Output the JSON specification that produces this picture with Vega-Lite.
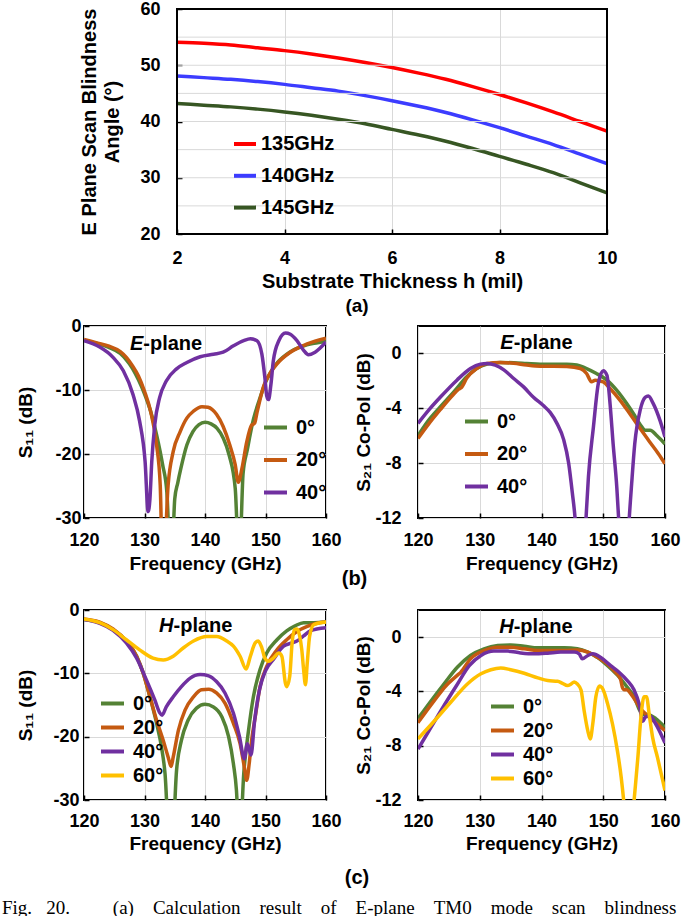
{
  "$schema": "https://vega.github.io/schema/vega-lite/v6.json",
  "background": "white",
  "padding": {"left": 2, "top": 0, "right": 0, "bottom": 0},
  "bounds": "flush",
  "align": "each",
  "columns": 2,
  "spacing": {"row": 92, "column": 92},
  "title": {
    "text": "Fig.\u00a0\u00a0\u00a020.\u00a0\u00a0\u00a0\u00a0\u00a0\u00a0\u00a0\u00a0\u00a0(a)\u00a0\u00a0\u00a0\u00a0Calculation\u00a0\u00a0\u00a0\u00a0result\u00a0\u00a0\u00a0\u00a0of\u00a0\u00a0\u00a0\u00a0E-plane\u00a0\u00a0\u00a0\u00a0TM0\u00a0\u00a0\u00a0\u00a0mode\u00a0\u00a0\u00a0\u00a0scan\u00a0\u00a0\u00a0\u00a0blindness",
    "orient": "bottom", "anchor": "start", "frame": "group", "dx": -82, "offset": 10,
    "font": "Liberation Serif", "fontSize": 19, "fontWeight": "normal"
  },
  "resolve": {"scale": {"color": "independent"}},
  "datasets": {
    "scan": [
      {"freq": "135GHz", "h": 2, "angle": 54.1}, {"freq": "135GHz", "h": 2.5, "angle": 53.9}, {"freq": "135GHz", "h": 3, "angle": 53.6},
      {"freq": "135GHz", "h": 3.5, "angle": 53.1}, {"freq": "135GHz", "h": 4, "angle": 52.6}, {"freq": "135GHz", "h": 4.5, "angle": 52.0},
      {"freq": "135GHz", "h": 5, "angle": 51.3}, {"freq": "135GHz", "h": 5.5, "angle": 50.5}, {"freq": "135GHz", "h": 6, "angle": 49.6},
      {"freq": "135GHz", "h": 6.5, "angle": 48.6}, {"freq": "135GHz", "h": 7, "angle": 47.5}, {"freq": "135GHz", "h": 7.5, "angle": 46.2},
      {"freq": "135GHz", "h": 8, "angle": 44.8}, {"freq": "135GHz", "h": 8.5, "angle": 43.3}, {"freq": "135GHz", "h": 9, "angle": 41.7},
      {"freq": "135GHz", "h": 9.5, "angle": 40.0}, {"freq": "135GHz", "h": 10, "angle": 38.3},
      {"freq": "140GHz", "h": 2, "angle": 48.1}, {"freq": "140GHz", "h": 2.5, "angle": 47.8}, {"freq": "140GHz", "h": 3, "angle": 47.5},
      {"freq": "140GHz", "h": 3.5, "angle": 47.1}, {"freq": "140GHz", "h": 4, "angle": 46.6}, {"freq": "140GHz", "h": 4.5, "angle": 46.0},
      {"freq": "140GHz", "h": 5, "angle": 45.4}, {"freq": "140GHz", "h": 5.5, "angle": 44.6}, {"freq": "140GHz", "h": 6, "angle": 43.7},
      {"freq": "140GHz", "h": 6.5, "angle": 42.7}, {"freq": "140GHz", "h": 7, "angle": 41.6}, {"freq": "140GHz", "h": 7.5, "angle": 40.3},
      {"freq": "140GHz", "h": 8, "angle": 38.9}, {"freq": "140GHz", "h": 8.5, "angle": 37.4}, {"freq": "140GHz", "h": 9, "angle": 35.9},
      {"freq": "140GHz", "h": 9.5, "angle": 34.2}, {"freq": "140GHz", "h": 10, "angle": 32.5},
      {"freq": "145GHz", "h": 2, "angle": 43.2}, {"freq": "145GHz", "h": 2.5, "angle": 42.9}, {"freq": "145GHz", "h": 3, "angle": 42.6},
      {"freq": "145GHz", "h": 3.5, "angle": 42.2}, {"freq": "145GHz", "h": 4, "angle": 41.7}, {"freq": "145GHz", "h": 4.5, "angle": 41.1},
      {"freq": "145GHz", "h": 5, "angle": 40.4}, {"freq": "145GHz", "h": 5.5, "angle": 39.6}, {"freq": "145GHz", "h": 6, "angle": 38.6},
      {"freq": "145GHz", "h": 6.5, "angle": 37.6}, {"freq": "145GHz", "h": 7, "angle": 36.5}, {"freq": "145GHz", "h": 7.5, "angle": 35.2},
      {"freq": "145GHz", "h": 8, "angle": 33.8}, {"freq": "145GHz", "h": 8.5, "angle": 32.4}, {"freq": "145GHz", "h": 9, "angle": 30.9},
      {"freq": "145GHz", "h": 9.5, "angle": 29.1}, {"freq": "145GHz", "h": 10, "angle": 27.3}
    ],
    "s11e": [
      {"a": "0°", "f": 120, "v": -2.2}, {"a": "0°", "f": 122, "v": -2.7}, {"a": "0°", "f": 124, "v": -3.3}, {"a": "0°", "f": 126, "v": -4.3},
      {"a": "0°", "f": 127, "v": -5.3}, {"a": "0°", "f": 128, "v": -6.6}, {"a": "0°", "f": 129, "v": -8.4}, {"a": "0°", "f": 130, "v": -10.6},
      {"a": "0°", "f": 131, "v": -13.3}, {"a": "0°", "f": 132, "v": -17}, {"a": "0°", "f": 133, "v": -21.7}, {"a": "0°", "f": 133.7, "v": -26},
      {"a": "0°", "f": 134.4, "v": -40}, {"a": "0°", "f": 135, "v": -27}, {"a": "0°", "f": 135.5, "v": -24.5}, {"a": "0°", "f": 136, "v": -22.3},
      {"a": "0°", "f": 137, "v": -18.6}, {"a": "0°", "f": 138, "v": -16.5}, {"a": "0°", "f": 139, "v": -15.4}, {"a": "0°", "f": 140, "v": -15.05},
      {"a": "0°", "f": 141, "v": -15.3}, {"a": "0°", "f": 142, "v": -16}, {"a": "0°", "f": 143, "v": -17.5}, {"a": "0°", "f": 144, "v": -20.2},
      {"a": "0°", "f": 145, "v": -25.4}, {"a": "0°", "f": 145.65, "v": -38}, {"a": "0°", "f": 146.3, "v": -23}, {"a": "0°", "f": 147, "v": -19.3},
      {"a": "0°", "f": 148, "v": -14.6}, {"a": "0°", "f": 149, "v": -11.5}, {"a": "0°", "f": 150, "v": -8.8}, {"a": "0°", "f": 151, "v": -7},
      {"a": "0°", "f": 152, "v": -5.7}, {"a": "0°", "f": 154, "v": -4.1}, {"a": "0°", "f": 156, "v": -3.2}, {"a": "0°", "f": 158, "v": -2.7},
      {"a": "0°", "f": 160, "v": -2.4},
      {"a": "20°", "f": 120, "v": -2.1}, {"a": "20°", "f": 122, "v": -2.6}, {"a": "20°", "f": 124, "v": -3.1}, {"a": "20°", "f": 126, "v": -4},
      {"a": "20°", "f": 127, "v": -4.9}, {"a": "20°", "f": 128, "v": -6.2}, {"a": "20°", "f": 129, "v": -7.8}, {"a": "20°", "f": 130, "v": -10.2},
      {"a": "20°", "f": 131, "v": -13.3}, {"a": "20°", "f": 132, "v": -18.6}, {"a": "20°", "f": 132.6, "v": -24.9}, {"a": "20°", "f": 133.05, "v": -40},
      {"a": "20°", "f": 133.9, "v": -24.9}, {"a": "20°", "f": 134.75, "v": -19.6}, {"a": "20°", "f": 135.9, "v": -16.5}, {"a": "20°", "f": 137, "v": -14.4},
      {"a": "20°", "f": 138.1, "v": -13.3}, {"a": "20°", "f": 139.5, "v": -12.6}, {"a": "20°", "f": 140.5, "v": -12.7}, {"a": "20°", "f": 141.9, "v": -13.8},
      {"a": "20°", "f": 143, "v": -15.7}, {"a": "20°", "f": 144.1, "v": -18.6}, {"a": "20°", "f": 145, "v": -21.7}, {"a": "20°", "f": 145.5, "v": -24.4},
      {"a": "20°", "f": 146.1, "v": -22.3}, {"a": "20°", "f": 146.9, "v": -18.1}, {"a": "20°", "f": 147.7, "v": -15.5}, {"a": "20°", "f": 148.2, "v": -15.2},
      {"a": "20°", "f": 148.6, "v": -13.5}, {"a": "20°", "f": 149.7, "v": -9.4}, {"a": "20°", "f": 150.8, "v": -7.3}, {"a": "20°", "f": 151.9, "v": -5.9},
      {"a": "20°", "f": 154.1, "v": -4.1}, {"a": "20°", "f": 156.9, "v": -2.8}, {"a": "20°", "f": 160, "v": -1.9},
      {"a": "40°", "f": 120, "v": -2.3}, {"a": "40°", "f": 122.6, "v": -3.3}, {"a": "40°", "f": 124.8, "v": -4.9}, {"a": "40°", "f": 126.5, "v": -7},
      {"a": "40°", "f": 128.1, "v": -10.7}, {"a": "40°", "f": 129.2, "v": -14.9}, {"a": "40°", "f": 130.1, "v": -21.2}, {"a": "40°", "f": 130.6, "v": -29},
      {"a": "40°", "f": 130.9, "v": -27}, {"a": "40°", "f": 131.2, "v": -21.2}, {"a": "40°", "f": 131.7, "v": -15.4}, {"a": "40°", "f": 132.5, "v": -11.2},
      {"a": "40°", "f": 133.6, "v": -8.6}, {"a": "40°", "f": 135.3, "v": -6.7}, {"a": "40°", "f": 137, "v": -5.7}, {"a": "40°", "f": 139.2, "v": -4.8},
      {"a": "40°", "f": 141.4, "v": -4.4}, {"a": "40°", "f": 143, "v": -4.1}, {"a": "40°", "f": 144.7, "v": -3.1}, {"a": "40°", "f": 146.4, "v": -2.3},
      {"a": "40°", "f": 147.5, "v": -2.0}, {"a": "40°", "f": 148.6, "v": -2.3}, {"a": "40°", "f": 149.4, "v": -4.4}, {"a": "40°", "f": 149.9, "v": -8.1},
      {"a": "40°", "f": 150.2, "v": -10.9}, {"a": "40°", "f": 150.5, "v": -11.5}, {"a": "40°", "f": 150.9, "v": -9.1}, {"a": "40°", "f": 151.3, "v": -5.4},
      {"a": "40°", "f": 152.2, "v": -2.3}, {"a": "40°", "f": 153.3, "v": -1.1}, {"a": "40°", "f": 154.1, "v": -1.3}, {"a": "40°", "f": 155.2, "v": -2.3},
      {"a": "40°", "f": 156.3, "v": -3.8}, {"a": "40°", "f": 157.1, "v": -4.5}, {"a": "40°", "f": 158.2, "v": -4.1}, {"a": "40°", "f": 160, "v": -2.5}
    ],
    "s21e": [
      {"a": "0°", "f": 120, "v": -6.0}, {"a": "0°", "f": 121.5, "v": -5.0}, {"a": "0°", "f": 123.6, "v": -3.9}, {"a": "0°", "f": 125.8, "v": -2.8},
      {"a": "0°", "f": 127.9, "v": -1.7}, {"a": "0°", "f": 129.5, "v": -1.1}, {"a": "0°", "f": 131.2, "v": -0.78}, {"a": "0°", "f": 133.3, "v": -0.66},
      {"a": "0°", "f": 135.5, "v": -0.68}, {"a": "0°", "f": 137.6, "v": -0.73}, {"a": "0°", "f": 139.8, "v": -0.78}, {"a": "0°", "f": 141.9, "v": -0.78},
      {"a": "0°", "f": 144.1, "v": -0.78}, {"a": "0°", "f": 145.7, "v": -0.85}, {"a": "0°", "f": 147.3, "v": -1.1}, {"a": "0°", "f": 148.9, "v": -1.46},
      {"a": "0°", "f": 150.6, "v": -1.95}, {"a": "0°", "f": 152.2, "v": -2.7}, {"a": "0°", "f": 153.8, "v": -3.66}, {"a": "0°", "f": 154.9, "v": -4.4},
      {"a": "0°", "f": 156, "v": -5.2}, {"a": "0°", "f": 156.8, "v": -5.6}, {"a": "0°", "f": 157.6, "v": -5.6}, {"a": "0°", "f": 158.7, "v": -6.0},
      {"a": "0°", "f": 160, "v": -6.6},
      {"a": "20°", "f": 120, "v": -6.2}, {"a": "20°", "f": 121.8, "v": -5.1}, {"a": "20°", "f": 123.6, "v": -4.1}, {"a": "20°", "f": 125.5, "v": -3.1},
      {"a": "20°", "f": 126.6, "v": -2.6}, {"a": "20°", "f": 127, "v": -2.5}, {"a": "20°", "f": 127.9, "v": -1.8}, {"a": "20°", "f": 129.5, "v": -1.1},
      {"a": "20°", "f": 131.2, "v": -0.73}, {"a": "20°", "f": 133.3, "v": -0.66}, {"a": "20°", "f": 135.5, "v": -0.72}, {"a": "20°", "f": 137.6, "v": -0.85},
      {"a": "20°", "f": 139.8, "v": -0.93}, {"a": "20°", "f": 142, "v": -0.93}, {"a": "20°", "f": 144.1, "v": -0.95}, {"a": "20°", "f": 146.3, "v": -1.1},
      {"a": "20°", "f": 147.3, "v": -1.46}, {"a": "20°", "f": 148.1, "v": -2.07}, {"a": "20°", "f": 148.7, "v": -1.95}, {"a": "20°", "f": 150, "v": -2.07},
      {"a": "20°", "f": 151.1, "v": -2.56}, {"a": "20°", "f": 152.7, "v": -3.4}, {"a": "20°", "f": 154.3, "v": -4.4}, {"a": "20°", "f": 156, "v": -5.5},
      {"a": "20°", "f": 157.6, "v": -6.5}, {"a": "20°", "f": 158.9, "v": -7.3}, {"a": "20°", "f": 160, "v": -8.05},
      {"a": "40°", "f": 120, "v": -5.1}, {"a": "40°", "f": 121.8, "v": -4.1}, {"a": "40°", "f": 123.6, "v": -3.2}, {"a": "40°", "f": 126.3, "v": -1.95},
      {"a": "40°", "f": 128.5, "v": -1.1}, {"a": "40°", "f": 130.1, "v": -0.78}, {"a": "40°", "f": 131.2, "v": -0.73}, {"a": "40°", "f": 132.5, "v": -0.85},
      {"a": "40°", "f": 133.9, "v": -1.2}, {"a": "40°", "f": 135.5, "v": -1.83}, {"a": "40°", "f": 137.1, "v": -2.44}, {"a": "40°", "f": 138.7, "v": -3.2},
      {"a": "40°", "f": 140.3, "v": -3.8}, {"a": "40°", "f": 141.4, "v": -4.3}, {"a": "40°", "f": 142.5, "v": -5.1}, {"a": "40°", "f": 143.6, "v": -6.3},
      {"a": "40°", "f": 144.4, "v": -8.0}, {"a": "40°", "f": 145, "v": -10.2}, {"a": "40°", "f": 145.45, "v": -12.1}, {"a": "40°", "f": 146.3, "v": -20},
      {"a": "40°", "f": 147.2, "v": -12.1}, {"a": "40°", "f": 147.6, "v": -9.0}, {"a": "40°", "f": 148.4, "v": -5.4}, {"a": "40°", "f": 149.2, "v": -2.2},
      {"a": "40°", "f": 150, "v": -1.27}, {"a": "40°", "f": 150.6, "v": -1.6}, {"a": "40°", "f": 151.1, "v": -3.66}, {"a": "40°", "f": 151.6, "v": -6.6},
      {"a": "40°", "f": 152.2, "v": -9.8}, {"a": "40°", "f": 152.5, "v": -12.1}, {"a": "40°", "f": 153.35, "v": -20}, {"a": "40°", "f": 154.2, "v": -12.1},
      {"a": "40°", "f": 154.6, "v": -9.5}, {"a": "40°", "f": 155.1, "v": -6.6}, {"a": "40°", "f": 156, "v": -4.1}, {"a": "40°", "f": 156.8, "v": -3.2},
      {"a": "40°", "f": 157.3, "v": -3.1}, {"a": "40°", "f": 158.1, "v": -3.66}, {"a": "40°", "f": 159.2, "v": -4.9}, {"a": "40°", "f": 160, "v": -6.1}
    ],
    "s11h": [
      {"a": "0°", "f": 120, "v": -1.5}, {"a": "0°", "f": 122.6, "v": -2.0}, {"a": "0°", "f": 124.8, "v": -3.1}, {"a": "0°", "f": 127, "v": -4.9},
      {"a": "0°", "f": 128.7, "v": -7.3}, {"a": "0°", "f": 129.8, "v": -10}, {"a": "0°", "f": 130.9, "v": -13.7}, {"a": "0°", "f": 132, "v": -17.9},
      {"a": "0°", "f": 132.8, "v": -21.6}, {"a": "0°", "f": 133.4, "v": -25.9}, {"a": "0°", "f": 134.35, "v": -42}, {"a": "0°", "f": 135.3, "v": -25.3},
      {"a": "0°", "f": 136.1, "v": -20.6}, {"a": "0°", "f": 137.2, "v": -17.4}, {"a": "0°", "f": 138.6, "v": -15.5}, {"a": "0°", "f": 140, "v": -14.9},
      {"a": "0°", "f": 141.4, "v": -15.3}, {"a": "0°", "f": 142.8, "v": -16.9}, {"a": "0°", "f": 143.9, "v": -20}, {"a": "0°", "f": 144.7, "v": -24.3},
      {"a": "0°", "f": 145.2, "v": -28.5}, {"a": "0°", "f": 145.7, "v": -38}, {"a": "0°", "f": 146.4, "v": -25.9}, {"a": "0°", "f": 147.2, "v": -19},
      {"a": "0°", "f": 148, "v": -13.7}, {"a": "0°", "f": 149.1, "v": -9.4}, {"a": "0°", "f": 150.2, "v": -6.8}, {"a": "0°", "f": 151.9, "v": -4.7},
      {"a": "0°", "f": 153.5, "v": -3.3}, {"a": "0°", "f": 154.9, "v": -2.5}, {"a": "0°", "f": 156.3, "v": -2.0}, {"a": "0°", "f": 158, "v": -2.0},
      {"a": "0°", "f": 160, "v": -1.9},
      {"a": "20°", "f": 120, "v": -1.4}, {"a": "20°", "f": 122.6, "v": -1.9}, {"a": "20°", "f": 124.8, "v": -3.0}, {"a": "20°", "f": 127, "v": -4.9},
      {"a": "20°", "f": 128.7, "v": -7.3}, {"a": "20°", "f": 129.8, "v": -10}, {"a": "20°", "f": 130.9, "v": -13.7}, {"a": "20°", "f": 132, "v": -17.4},
      {"a": "20°", "f": 133.1, "v": -20.6}, {"a": "20°", "f": 133.9, "v": -23.2}, {"a": "20°", "f": 134.4, "v": -24.7}, {"a": "20°", "f": 134.75, "v": -23.2},
      {"a": "20°", "f": 135.6, "v": -19}, {"a": "20°", "f": 136.7, "v": -15.8}, {"a": "20°", "f": 138.1, "v": -13.7}, {"a": "20°", "f": 139.4, "v": -12.6},
      {"a": "20°", "f": 140.6, "v": -12.5}, {"a": "20°", "f": 141.9, "v": -13.1}, {"a": "20°", "f": 143.3, "v": -14.7}, {"a": "20°", "f": 144.7, "v": -17.9},
      {"a": "20°", "f": 145.8, "v": -21.1}, {"a": "20°", "f": 146.5, "v": -24.8}, {"a": "20°", "f": 146.9, "v": -26.9}, {"a": "20°", "f": 147.3, "v": -24.3},
      {"a": "20°", "f": 147.7, "v": -20.6}, {"a": "20°", "f": 148.3, "v": -16.9}, {"a": "20°", "f": 149.1, "v": -12.1}, {"a": "20°", "f": 150.2, "v": -8.9},
      {"a": "20°", "f": 151.9, "v": -6.3}, {"a": "20°", "f": 153.5, "v": -4.7}, {"a": "20°", "f": 155.2, "v": -3.4}, {"a": "20°", "f": 156.9, "v": -2.6},
      {"a": "20°", "f": 158.5, "v": -2.1}, {"a": "20°", "f": 160, "v": -1.9},
      {"a": "40°", "f": 120, "v": -1.5}, {"a": "40°", "f": 122.6, "v": -2.1}, {"a": "40°", "f": 124.8, "v": -3.2}, {"a": "40°", "f": 127, "v": -5.2},
      {"a": "40°", "f": 128.7, "v": -7.6}, {"a": "40°", "f": 130.3, "v": -11}, {"a": "40°", "f": 131.7, "v": -14.2}, {"a": "40°", "f": 132.5, "v": -16.2},
      {"a": "40°", "f": 132.9, "v": -16.6}, {"a": "40°", "f": 133.6, "v": -15.3}, {"a": "40°", "f": 134.75, "v": -13.7}, {"a": "40°", "f": 136.1, "v": -12.1},
      {"a": "40°", "f": 137.5, "v": -10.8}, {"a": "40°", "f": 139.2, "v": -10.2}, {"a": "40°", "f": 140.6, "v": -10.4}, {"a": "40°", "f": 141.9, "v": -11.3},
      {"a": "40°", "f": 143.3, "v": -13.1}, {"a": "40°", "f": 144.7, "v": -16.3}, {"a": "40°", "f": 145.7, "v": -20}, {"a": "40°", "f": 146.5, "v": -23.5},
      {"a": "40°", "f": 147, "v": -21.1}, {"a": "40°", "f": 147.6, "v": -22.9}, {"a": "40°", "f": 148.2, "v": -17.5}, {"a": "40°", "f": 149, "v": -12.6},
      {"a": "40°", "f": 150, "v": -9.6}, {"a": "40°", "f": 151.3, "v": -7.8}, {"a": "40°", "f": 153, "v": -5.7}, {"a": "40°", "f": 154.4, "v": -5.2},
      {"a": "40°", "f": 155.2, "v": -4.9}, {"a": "40°", "f": 156.3, "v": -4.1}, {"a": "40°", "f": 157.4, "v": -3.3}, {"a": "40°", "f": 160, "v": -2.8},
      {"a": "60°", "f": 120, "v": -1.4}, {"a": "60°", "f": 122.6, "v": -2.0}, {"a": "60°", "f": 124.8, "v": -3.1}, {"a": "60°", "f": 127, "v": -4.7},
      {"a": "60°", "f": 129.2, "v": -6.3}, {"a": "60°", "f": 131.4, "v": -7.6}, {"a": "60°", "f": 133.1, "v": -7.9}, {"a": "60°", "f": 134.75, "v": -7.3},
      {"a": "60°", "f": 136.4, "v": -6.0}, {"a": "60°", "f": 138.1, "v": -4.9}, {"a": "60°", "f": 140.3, "v": -4.2}, {"a": "60°", "f": 141.9, "v": -4.2},
      {"a": "60°", "f": 143.6, "v": -4.9}, {"a": "60°", "f": 144.7, "v": -5.7}, {"a": "60°", "f": 145.8, "v": -7.3}, {"a": "60°", "f": 146.8, "v": -9.3},
      {"a": "60°", "f": 147.5, "v": -7.3}, {"a": "60°", "f": 148.3, "v": -5.2}, {"a": "60°", "f": 148.8, "v": -4.9}, {"a": "60°", "f": 149.4, "v": -6.0},
      {"a": "60°", "f": 149.9, "v": -7.6}, {"a": "60°", "f": 150.5, "v": -8.1}, {"a": "60°", "f": 151.3, "v": -7.6}, {"a": "60°", "f": 152.2, "v": -6.8},
      {"a": "60°", "f": 152.7, "v": -7.3}, {"a": "60°", "f": 153.3, "v": -11.6}, {"a": "60°", "f": 153.5, "v": -12.1}, {"a": "60°", "f": 154, "v": -10.5},
      {"a": "60°", "f": 154.4, "v": -5.2}, {"a": "60°", "f": 154.8, "v": -3.1}, {"a": "60°", "f": 155.2, "v": -3.0}, {"a": "60°", "f": 155.6, "v": -3.9},
      {"a": "60°", "f": 156, "v": -6.3}, {"a": "60°", "f": 156.3, "v": -9.4}, {"a": "60°", "f": 156.6, "v": -11.8}, {"a": "60°", "f": 156.9, "v": -8.4},
      {"a": "60°", "f": 157.3, "v": -4.1}, {"a": "60°", "f": 158, "v": -2.3}, {"a": "60°", "f": 160, "v": -1.9}
    ],
    "s21h": [
      {"a": "0°", "f": 120, "v": -6.0}, {"a": "0°", "f": 122.1, "v": -4.7}, {"a": "0°", "f": 124.2, "v": -3.45}, {"a": "0°", "f": 126.4, "v": -2.2},
      {"a": "0°", "f": 128.5, "v": -1.35}, {"a": "0°", "f": 130.7, "v": -0.86}, {"a": "0°", "f": 132.9, "v": -0.62}, {"a": "0°", "f": 135, "v": -0.57},
      {"a": "0°", "f": 137.2, "v": -0.67}, {"a": "0°", "f": 139.4, "v": -0.79}, {"a": "0°", "f": 141.5, "v": -0.79}, {"a": "0°", "f": 143.7, "v": -0.79},
      {"a": "0°", "f": 145.8, "v": -0.86}, {"a": "0°", "f": 147.5, "v": -1.1}, {"a": "0°", "f": 149.1, "v": -1.5}, {"a": "0°", "f": 150.7, "v": -2.1},
      {"a": "0°", "f": 152.3, "v": -2.8}, {"a": "0°", "f": 153.9, "v": -3.7}, {"a": "0°", "f": 155, "v": -4.4}, {"a": "0°", "f": 155.8, "v": -5.3},
      {"a": "0°", "f": 156.4, "v": -5.7}, {"a": "0°", "f": 157.2, "v": -5.7}, {"a": "0°", "f": 158.5, "v": -6.0}, {"a": "0°", "f": 160, "v": -6.65},
      {"a": "20°", "f": 120, "v": -6.3}, {"a": "20°", "f": 122.6, "v": -4.7}, {"a": "20°", "f": 124.5, "v": -3.6}, {"a": "20°", "f": 126.4, "v": -2.8},
      {"a": "20°", "f": 126.9, "v": -2.6}, {"a": "20°", "f": 128.5, "v": -1.6}, {"a": "20°", "f": 130.7, "v": -1.0}, {"a": "20°", "f": 132.9, "v": -0.74},
      {"a": "20°", "f": 135, "v": -0.74}, {"a": "20°", "f": 137.2, "v": -0.86}, {"a": "20°", "f": 139.4, "v": -0.99}, {"a": "20°", "f": 141.5, "v": -0.99},
      {"a": "20°", "f": 143.7, "v": -0.99}, {"a": "20°", "f": 145.8, "v": -0.94}, {"a": "20°", "f": 147.5, "v": -1.1}, {"a": "20°", "f": 149.1, "v": -1.5},
      {"a": "20°", "f": 150.7, "v": -2.0}, {"a": "20°", "f": 151.8, "v": -2.5}, {"a": "20°", "f": 152.8, "v": -3.1}, {"a": "20°", "f": 153.1, "v": -3.7},
      {"a": "20°", "f": 153.4, "v": -3.87}, {"a": "20°", "f": 153.8, "v": -3.87}, {"a": "20°", "f": 154.5, "v": -4.2}, {"a": "20°", "f": 156.1, "v": -5.3},
      {"a": "20°", "f": 157.2, "v": -5.8}, {"a": "20°", "f": 158.5, "v": -6.3}, {"a": "20°", "f": 160, "v": -6.9},
      {"a": "40°", "f": 120, "v": -8.25}, {"a": "40°", "f": 122.1, "v": -6.65}, {"a": "40°", "f": 124.2, "v": -5.05}, {"a": "40°", "f": 126.4, "v": -3.45},
      {"a": "40°", "f": 128.3, "v": -2.1}, {"a": "40°", "f": 130.2, "v": -1.35}, {"a": "40°", "f": 132.3, "v": -1.03}, {"a": "40°", "f": 134.5, "v": -1.03},
      {"a": "40°", "f": 136.6, "v": -1.16}, {"a": "40°", "f": 138.8, "v": -1.23}, {"a": "40°", "f": 141, "v": -1.18}, {"a": "40°", "f": 143.1, "v": -1.1},
      {"a": "40°", "f": 145.3, "v": -1.1}, {"a": "40°", "f": 146.1, "v": -1.23}, {"a": "40°", "f": 146.6, "v": -1.6}, {"a": "40°", "f": 147.5, "v": -1.35},
      {"a": "40°", "f": 148.3, "v": -1.23}, {"a": "40°", "f": 149.6, "v": -1.5}, {"a": "40°", "f": 151.2, "v": -2.1}, {"a": "40°", "f": 152.6, "v": -2.6},
      {"a": "40°", "f": 153.9, "v": -3.2}, {"a": "40°", "f": 155, "v": -3.9}, {"a": "40°", "f": 155.8, "v": -4.9}, {"a": "40°", "f": 156.4, "v": -6.2},
      {"a": "40°", "f": 156.8, "v": -5.9}, {"a": "40°", "f": 157.5, "v": -5.8}, {"a": "40°", "f": 158.5, "v": -6.4}, {"a": "40°", "f": 160, "v": -7.8},
      {"a": "60°", "f": 120, "v": -7.5}, {"a": "60°", "f": 122.6, "v": -6.2}, {"a": "60°", "f": 125.3, "v": -4.8}, {"a": "60°", "f": 128, "v": -3.45},
      {"a": "60°", "f": 130.2, "v": -2.7}, {"a": "60°", "f": 131.8, "v": -2.4}, {"a": "60°", "f": 133.4, "v": -2.27}, {"a": "60°", "f": 135, "v": -2.4},
      {"a": "60°", "f": 137.2, "v": -2.66}, {"a": "60°", "f": 139.4, "v": -3.0}, {"a": "60°", "f": 141, "v": -3.2}, {"a": "60°", "f": 142.6, "v": -3.25},
      {"a": "60°", "f": 143.4, "v": -3.4}, {"a": "60°", "f": 144.2, "v": -3.57}, {"a": "60°", "f": 144.8, "v": -3.45}, {"a": "60°", "f": 145.3, "v": -3.3},
      {"a": "60°", "f": 145.8, "v": -3.45}, {"a": "60°", "f": 146.4, "v": -3.9}, {"a": "60°", "f": 146.9, "v": -5.4}, {"a": "60°", "f": 147.5, "v": -6.9},
      {"a": "60°", "f": 147.9, "v": -7.5}, {"a": "60°", "f": 148.3, "v": -6.4}, {"a": "60°", "f": 148.8, "v": -4.4}, {"a": "60°", "f": 149.4, "v": -3.6},
      {"a": "60°", "f": 149.9, "v": -3.8}, {"a": "60°", "f": 150.7, "v": -4.9}, {"a": "60°", "f": 151.5, "v": -6.4}, {"a": "60°", "f": 152.3, "v": -8.4},
      {"a": "60°", "f": 152.9, "v": -10.3}, {"a": "60°", "f": 153.3, "v": -12}, {"a": "60°", "f": 154.1, "v": -17}, {"a": "60°", "f": 155, "v": -12},
      {"a": "60°", "f": 155.6, "v": -8.9}, {"a": "60°", "f": 156.1, "v": -5.9}, {"a": "60°", "f": 156.6, "v": -4.4}, {"a": "60°", "f": 157, "v": -4.4},
      {"a": "60°", "f": 157.5, "v": -5.9}, {"a": "60°", "f": 158, "v": -7.4}, {"a": "60°", "f": 158.8, "v": -8.9}, {"a": "60°", "f": 159.5, "v": -10.3},
      {"a": "60°", "f": 160, "v": -11.3}
    ]
  },
  "concat": [
    {
      "width": 242, "height": 225,
      "view": {"stroke": null},
      "layer": [
        {
          "data": {"name": "scan"},
          "mark": {"type": "line", "strokeWidth": 3.5, "interpolate": "monotone"},
          "encoding": {
            "x": {"field": "h", "type": "quantitative", "scale": {"domain": [2, 10], "range": [93, 523], "nice": false, "zero": false},
              "axis": {"title": "Substrate Thickness h (mil)", "values": [2, 2.5, 3, 3.5, 4, 4.5, 5, 5.5, 6, 6.5, 7, 7.5, 8, 8.5, 9, 9.5, 10],
                "grid": true, "labelExpr": "datum.value % 1 === 0 ? toString(datum.value) : ''", "labelPadding": 20, "titlePadding": 4, "titleFontSize": 20}},
            "y": {"field": "angle", "type": "quantitative", "scale": {"domain": [20, 60], "nice": false, "zero": false},
              "axis": {"title": ["E Plane Scan Blindness", "Angle (°)"], "values": [20, 25, 30, 35, 40, 45, 50, 55, 60], "offset": -93, "grid": false,
                "labelExpr": "datum.value % 10 === 0 ? toString(datum.value) : ''", "labelPadding": 22, "titlePadding": 17, "titleFontSize": 20, "titleLineHeight": 23}},
            "color": {"field": "freq", "type": "nominal",
              "scale": {"domain": ["135GHz", "140GHz", "145GHz"], "range": ["#ff0000", "#3c3cff", "#375623"]},
              "legend": {"title": null, "orient": "none", "legendX": 148, "legendY": 122, "rowPadding": 8.8, "symbolSize": 484, "labelOffset": 3}}
          }
        },
        {
          "data": {"values": [{"g": 25}, {"g": 30}, {"g": 35}, {"g": 40}, {"g": 45}, {"g": 50}, {"g": 55}]},
          "mark": {"type": "rule", "color": "#d9d9d9", "strokeWidth": 1},
          "encoding": {
            "y": {"field": "g", "type": "quantitative", "scale": {"domain": [20, 60], "nice": false, "zero": false},
              "axis": {"title": ["E Plane Scan Blindness", "Angle (°)"], "values": [20, 25, 30, 35, 40, 45, 50, 55, 60], "offset": -93, "grid": false,
                "labelExpr": "datum.value % 10 === 0 ? toString(datum.value) : ''", "labelPadding": 22, "titlePadding": 17, "titleFontSize": 20, "titleLineHeight": 23}},
            "x": {"datum": 2, "type": "quantitative", "scale": {"domain": [2, 10], "range": [93, 523], "nice": false, "zero": false},
              "axis": {"title": "Substrate Thickness h (mil)", "values": [2, 2.5, 3, 3.5, 4, 4.5, 5, 5.5, 6, 6.5, 7, 7.5, 8, 8.5, 9, 9.5, 10],
                "grid": true, "labelExpr": "datum.value % 1 === 0 ? toString(datum.value) : ''", "labelPadding": 20, "titlePadding": 4, "titleFontSize": 20}},
            "x2": {"datum": 10}
          }
        },
        {
          "data": {"values": [{"h": 5.35, "angle": 7.2, "t": "(a)"}]},
          "mark": {"type": "text", "fontWeight": "bold", "fontSize": 19, "align": "center", "baseline": "middle", "color": "black"},
          "encoding": {
            "x": {"field": "h", "type": "quantitative", "scale": {"domain": [2, 10], "range": [93, 523], "nice": false, "zero": false}},
            "y": {"field": "angle", "type": "quantitative", "scale": {"domain": [20, 60], "nice": false, "zero": false}},
            "text": {"field": "t"}
          }
        },
        {
          "data": {"values": [{}]},
          "mark": {"type": "rect", "filled": false, "stroke": "#000000", "strokeWidth": 2},
          "encoding": {
            "x": {"datum": 2, "type": "quantitative", "scale": {"domain": [2, 10], "range": [93, 523], "nice": false, "zero": false}}, "x2": {"datum": 10},
            "y": {"datum": 20, "type": "quantitative", "scale": {"domain": [20, 60], "nice": false, "zero": false}}, "y2": {"datum": 60}
          }
        }
      ]
    },
    {
      "width": 247, "height": 225,
      "view": {"stroke": null},
      "data": {"values": [{}]},
      "mark": {"type": "point", "opacity": 0}
    },
    {
      "width": 242, "height": 192,
      "layer": [
        {
          "data": {"name": "s11e"},
          "mark": {"type": "line", "strokeWidth": 3.5, "interpolate": "monotone", "clip": true},
          "encoding": {
            "x": {"field": "f", "type": "quantitative", "scale": {"domain": [120, 160], "nice": false},
              "axis": {"title": "Frequency (GHz)", "values": [120, 125, 130, 135, 140, 145, 150, 155, 160],
                "labelExpr": "datum.value % 10 === 0 ? toString(datum.value) : ''", "labelPadding": 18, "titlePadding": 5}},
            "y": {"field": "v", "type": "quantitative", "scale": {"domain": [-30, 0], "nice": false},
              "axis": {"title": "S₁₁  (dB)", "values": [-30, -25, -20, -15, -10, -5, 0],
                "labelExpr": "datum.value % 10 === 0 ? toString(datum.value) : ''", "labelPadding": 8, "titlePadding": 19}},
            "color": {"field": "a", "type": "nominal",
              "scale": {"domain": ["0°", "20°", "40°"], "range": ["#548235", "#c55a11", "#7030a0"]},
              "legend": {"title": null, "orient": "none", "legendX": 178, "legendY": 88, "rowPadding": 8.5}}
          }
        },
        {
          "data": {"values": [{"f": 129.8, "v": -2.8, "t": "E"}]},
          "mark": {"type": "text", "fontStyle": "italic", "fontWeight": "bold", "fontSize": 20, "align": "right", "baseline": "middle", "color": "black"},
          "encoding": {"x": {"field": "f", "type": "quantitative"}, "y": {"field": "v", "type": "quantitative"}, "text": {"field": "t"}}
        },
        {
          "data": {"values": [{"f": 129.8, "v": -2.8, "t": "-plane"}, {"f": 162.6, "v": -39.5, "t": "(b)"}]},
          "mark": {"type": "text", "fontWeight": "bold", "fontSize": 20, "align": "left", "baseline": "middle", "color": "black"},
          "encoding": {"x": {"field": "f", "type": "quantitative"}, "y": {"field": "v", "type": "quantitative"}, "text": {"field": "t"}}
        }
      ]
    },
    {
      "width": 247, "height": 192,
      "layer": [
        {
          "data": {"name": "s21e"},
          "mark": {"type": "line", "strokeWidth": 3.5, "interpolate": "monotone", "clip": true},
          "encoding": {
            "x": {"field": "f", "type": "quantitative", "scale": {"domain": [120, 160], "nice": false},
              "axis": {"title": "Frequency (GHz)", "values": [120, 125, 130, 135, 140, 145, 150, 155, 160],
                "labelExpr": "datum.value % 10 === 0 ? toString(datum.value) : ''", "labelPadding": 18, "titlePadding": 5}},
            "y": {"field": "v", "type": "quantitative", "scale": {"domain": [-12, 2], "nice": false},
              "axis": {"title": "S₂₁ Co-Pol  (dB)", "values": [-12, -10, -8, -6, -4, -2, 0, 2],
                "labelExpr": "datum.value % 4 === 0 ? toString(datum.value) : ''", "labelPadding": 22, "titlePadding": 1}},
            "color": {"field": "a", "type": "nominal",
              "scale": {"domain": ["0°", "20°", "40°"], "range": ["#548235", "#c55a11", "#7030a0"]},
              "legend": {"title": null, "orient": "none", "legendX": 45, "legendY": 82, "rowPadding": 8.5}}
          }
        },
        {
          "data": {"values": [{"f": 135.5, "v": 0.73, "t": "E"}]},
          "mark": {"type": "text", "fontStyle": "italic", "fontWeight": "bold", "fontSize": 20, "align": "right", "baseline": "middle", "color": "black"},
          "encoding": {"x": {"field": "f", "type": "quantitative"}, "y": {"field": "v", "type": "quantitative"}, "text": {"field": "t"}}
        },
        {
          "data": {"values": [{"f": 135.5, "v": 0.73, "t": "-plane"}]},
          "mark": {"type": "text", "fontWeight": "bold", "fontSize": 20, "align": "left", "baseline": "middle", "color": "black"},
          "encoding": {"x": {"field": "f", "type": "quantitative"}, "y": {"field": "v", "type": "quantitative"}, "text": {"field": "t"}}
        }
      ]
    },
    {
      "width": 242, "height": 190,
      "layer": [
        {
          "data": {"name": "s11h"},
          "mark": {"type": "line", "strokeWidth": 3.5, "interpolate": "monotone", "clip": true},
          "encoding": {
            "x": {"field": "f", "type": "quantitative", "scale": {"domain": [120, 160], "nice": false},
              "axis": {"title": "Frequency (GHz)", "values": [120, 125, 130, 135, 140, 145, 150, 155, 160],
                "labelExpr": "datum.value % 10 === 0 ? toString(datum.value) : ''", "labelPadding": 17, "titlePadding": 4}},
            "y": {"field": "v", "type": "quantitative", "scale": {"domain": [-30, 0], "nice": false},
              "axis": {"title": "S₁₁ (dB)", "values": [-30, -25, -20, -15, -10, -5, 0],
                "labelExpr": "datum.value % 10 === 0 ? toString(datum.value) : ''", "labelPadding": 10, "titlePadding": 17}},
            "color": {"field": "a", "type": "nominal",
              "scale": {"domain": ["0°", "20°", "40°", "60°"], "range": ["#548235", "#c55a11", "#7030a0", "#ffc000"]},
              "legend": {"title": null, "orient": "none", "legendX": 15, "legendY": 80, "rowPadding": 0}}
          }
        },
        {
          "data": {"values": [{"f": 134.8, "v": -2.54, "t": "H"}]},
          "mark": {"type": "text", "fontStyle": "italic", "fontWeight": "bold", "fontSize": 20, "align": "right", "baseline": "middle", "color": "black"},
          "encoding": {"x": {"field": "f", "type": "quantitative"}, "y": {"field": "v", "type": "quantitative"}, "text": {"field": "t"}}
        },
        {
          "data": {"values": [{"f": 134.8, "v": -2.54, "t": "-plane"}, {"f": 163.1, "v": -42.3, "t": "(c)"}]},
          "mark": {"type": "text", "fontWeight": "bold", "fontSize": 20, "align": "left", "baseline": "middle", "color": "black"},
          "encoding": {"x": {"field": "f", "type": "quantitative"}, "y": {"field": "v", "type": "quantitative"}, "text": {"field": "t"}}
        }
      ]
    },
    {
      "width": 247, "height": 190,
      "layer": [
        {
          "data": {"name": "s21h"},
          "mark": {"type": "line", "strokeWidth": 3.5, "interpolate": "monotone", "clip": true},
          "encoding": {
            "x": {"field": "f", "type": "quantitative", "scale": {"domain": [120, 160], "nice": false},
              "axis": {"title": "Frequency (GHz)", "values": [120, 125, 130, 135, 140, 145, 150, 155, 160],
                "labelExpr": "datum.value % 10 === 0 ? toString(datum.value) : ''", "labelPadding": 17, "titlePadding": 4}},
            "y": {"field": "v", "type": "quantitative", "scale": {"domain": [-12, 2], "nice": false},
              "axis": {"title": "S₂₁ Co-Pol  (dB)", "values": [-12, -10, -8, -6, -4, -2, 0, 2],
                "labelExpr": "datum.value % 4 === 0 ? toString(datum.value) : ''", "labelPadding": 22, "titlePadding": 1}},
            "color": {"field": "a", "type": "nominal",
              "scale": {"domain": ["0°", "20°", "40°", "60°"], "range": ["#548235", "#c55a11", "#7030a0", "#ffc000"]},
              "legend": {"title": null, "orient": "none", "legendX": 71, "legendY": 83, "rowPadding": 0}}
          }
        },
        {
          "data": {"values": [{"f": 135.5, "v": 0.74, "t": "H"}]},
          "mark": {"type": "text", "fontStyle": "italic", "fontWeight": "bold", "fontSize": 20, "align": "right", "baseline": "middle", "color": "black"},
          "encoding": {"x": {"field": "f", "type": "quantitative"}, "y": {"field": "v", "type": "quantitative"}, "text": {"field": "t"}}
        },
        {
          "data": {"values": [{"f": 135.5, "v": 0.74, "t": "-plane"}]},
          "mark": {"type": "text", "fontWeight": "bold", "fontSize": 20, "align": "left", "baseline": "middle", "color": "black"},
          "encoding": {"x": {"field": "f", "type": "quantitative"}, "y": {"field": "v", "type": "quantitative"}, "text": {"field": "t"}}
        }
      ]
    }
  ],
  "config": {
    "font": "Liberation Sans",
    "view": {"stroke": "#000000", "strokeWidth": 2},
    "axis": {
      "domain": false, "grid": true, "gridColor": "#d9d9d9", "gridWidth": 1,
      "ticks": true, "tickColor": "#000000", "tickSize": -5, "tickWidth": 1.5,
      "labelFlush": false, "labelOverlap": false,
      "labelFont": "Liberation Sans", "labelFontSize": 18, "labelFontWeight": "bold", "labelColor": "#000000",
      "titleFont": "Liberation Sans", "titleFontSize": 19, "titleFontWeight": "bold", "titleColor": "#000000"
    },
    "legend": {
      "orient": "none",
      "symbolType": "stroke", "symbolStrokeWidth": 4, "symbolSize": 529,
      "labelFont": "Liberation Sans", "labelFontSize": 20, "labelFontWeight": "bold", "labelColor": "#000000",
      "labelOffset": 7, "padding": 0
    },
    "title": {"font": "Liberation Sans", "fontSize": 19, "fontWeight": "bold", "color": "#000000"}
  }
}
